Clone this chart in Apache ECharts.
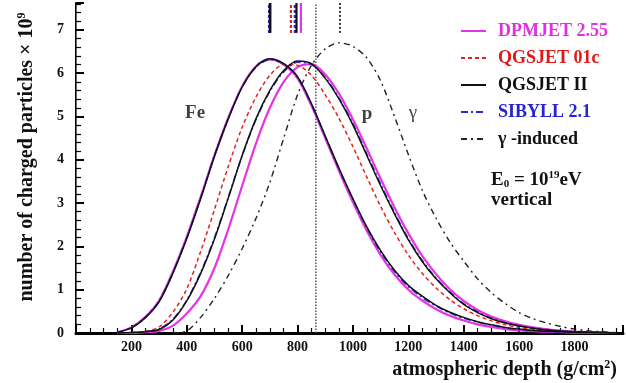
<!DOCTYPE html>
<html><head><meta charset="utf-8">
<script src="https://cdn.jsdelivr.net/npm/echarts@6/dist/echarts.min.js"></script>
<style>html,body{margin:0;padding:0;background:#fff}#c{width:626px;height:383px}</style>
</head><body><div id="c"></div>
<script>
// ---- data (atmospheric depth in g/cm^2, particles x 10^9) ----
const depth = [150,200,250,300,350,400,450,500,550,600,650,700,750,800,850,900,950,1000,1050,1100,1150,1200,1250,1300,1350,1400,1450,1500,1550,1600,1650,1700,1750,1800,1850,1900,1950];

const feDPMJET  = [0.02,0.13,0.37,0.75,1.42,2.22,3.14,4.10,4.97,5.70,6.16,6.32,6.20,5.88,5.25,4.50,3.74,3.02,2.36,1.80,1.35,1.00,0.75,0.55,0.40,0.29,0.20,0.14,0.09,0.06,0.04,0.03,0.02,0.01,0.005,0,0];
const feQGSII   = [0.02,0.12,0.35,0.72,1.38,2.18,3.10,4.08,4.95,5.68,6.15,6.33,6.22,5.92,5.30,4.55,3.80,3.10,2.45,1.90,1.45,1.10,0.85,0.64,0.48,0.36,0.26,0.19,0.13,0.09,0.06,0.04,0.03,0.015,0.01,0.005,0];
const feSIBYLL  = [0.02,0.12,0.36,0.74,1.40,2.20,3.12,4.10,4.96,5.68,6.14,6.31,6.21,5.90,5.28,4.53,3.78,3.08,2.42,1.87,1.42,1.07,0.82,0.62,0.46,0.34,0.25,0.18,0.12,0.08,0.055,0.035,0.025,0.012,0.008,0.004,0];

const pDPMJET   = [0,0,0.02,0.05,0.17,0.45,0.85,1.50,2.40,3.40,4.38,5.20,5.80,6.14,6.21,5.97,5.52,4.93,4.26,3.56,2.90,2.30,1.78,1.36,1.01,0.74,0.53,0.38,0.27,0.19,0.13,0.085,0.055,0.035,0.02,0.01,0];
const pQGS01c   = [0,0.01,0.04,0.14,0.48,1.02,1.88,2.85,3.85,4.75,5.45,5.95,6.20,6.18,5.95,5.50,4.95,4.30,3.60,2.92,2.32,1.80,1.38,1.04,0.77,0.56,0.40,0.28,0.19,0.13,0.09,0.06,0.04,0.025,0.015,0.01,0];
const pQGSII    = [0,0.01,0.03,0.08,0.30,0.74,1.37,2.17,3.12,4.10,4.95,5.60,6.06,6.28,6.22,5.88,5.40,4.80,4.10,3.40,2.75,2.15,1.65,1.25,0.93,0.66,0.47,0.33,0.23,0.16,0.11,0.07,0.045,0.03,0.02,0.01,0];
const pSIBYLL   = [0,0.01,0.03,0.09,0.32,0.76,1.40,2.20,3.14,4.10,4.93,5.58,6.03,6.25,6.20,5.90,5.42,4.83,4.14,3.44,2.78,2.18,1.68,1.27,0.95,0.68,0.49,0.34,0.24,0.17,0.11,0.075,0.05,0.03,0.02,0.01,0];

const gamma     = [null,null,null,null,0,0.05,0.36,0.80,1.33,1.95,2.65,3.48,4.50,5.50,6.18,6.56,6.70,6.62,6.35,5.82,5.00,4.12,3.30,2.65,2.10,1.66,1.25,0.93,0.68,0.47,0.33,0.23,0.15,0.09,0.05,0.03,0.01];

// mean Xmax markers (g/cm^2), model order: DPMJET, QGSJET01c, QGSJETII, SIBYLL
const xmaxFe = [703, null, 700, 697];
const xmaxP  = [812, 776, 796, 790];
const xmaxGamma = 953;
const obsLevel = 866;

const modelNames = ['DPMJET 2.55','QGSJET 01c','QGSJET II','SIBYLL 2.1'];
const gammaName = 'γ -induced';
const xTicks = [200,400,600,800,1000,1200,1400,1600,1800];
const yTicks = [0,1,2,3,4,5,6,7];

// ---- styles ----
const SERIF = 'Liberation Serif, Times New Roman, serif';
const styles = [
  {color:'#e633e6', type:'solid', width:2.2},
  {color:'#e8201c', type:[4,3], width:1.5},
  {color:'#111111', type:'solid', width:1.5},
  {color:'#2b2bd0', type:[7,3,2,3], width:1.5}
];
const textColors = ['#e030e0','#e01818','#111111','#2424d0'];
const X_MAX = 1975, Y_MAX = 7.62, MARK_LOW = 6.93;

const pair = arr => depth.map((d,i)=>[d, arr[i]]).filter(p=>p[1]!==null);
const series = [];
const feSets = [feDPMJET, null, feQGSII, feSIBYLL];
const pSets = [pDPMJET, pQGS01c, pQGSII, pSIBYLL];
[0,1,3,2].forEach(m=>{
  if (feSets[m]) series.push({type:'line', name:modelNames[m], data:pair(feSets[m]), symbol:'none', smooth:0.3,
    lineStyle:{color:styles[m].color, type:styles[m].type, width:styles[m].width}, itemStyle:{color:styles[m].color}, z:3});
  series.push({type:'line', name:modelNames[m], data:pair(pSets[m]), symbol:'none', smooth:0.3,
    lineStyle:{color:styles[m].color, type:styles[m].type, width:styles[m].width}, itemStyle:{color:styles[m].color}, z:3});
});
series.push({type:'line', name:gammaName, data:pair(gamma), symbol:'none', smooth:0.3,
  lineStyle:{color:'#222', type:[6,4,2,4], width:1.4}, itemStyle:{color:'#222'}, z:3});
[0,1,3,2].forEach(m=>{
  [xmaxFe[m], xmaxP[m]].forEach(x=>{
    if (x===null) return;
    series.push({type:'line', name:'mark', data:[[x,MARK_LOW],[x,Y_MAX]], symbol:'none', silent:true,
      lineStyle:{color:styles[m].color, type:styles[m].type==='solid'?'solid':[3,2], width:2.2}, z:4});
  });
});
series.push({type:'line', name:'markG', data:[[xmaxGamma,MARK_LOW],[xmaxGamma,Y_MAX]], symbol:'none', silent:true,
  lineStyle:{color:'#333', type:[2,2], width:2}, z:4});
series.push({type:'line', name:'obs', data:[[obsLevel,0],[obsLevel,Y_MAX]], symbol:'none', silent:true,
  lineStyle:{color:'#555', type:[1.5,1.5], width:1.5}, z:2});
series.push({type:'scatter', name:'lbl', symbolSize:0, silent:true, z:5,
  data:[{value:[430,5.07], label:{formatter:'Fe'}}, {value:[1051,5.05], label:{formatter:'p'}}, {value:[1217,5.08], label:{formatter:'γ', fontWeight:'normal'}}],
  label:{show:true, position:'inside', fontFamily:SERIF, fontWeight:'bold', fontSize:19, color:'#111'}});

const chart = echarts.init(document.getElementById('c'), null, {renderer:'canvas'});
chart.setOption({
  animation:false,
  backgroundColor:'#fff',
  grid:{left:76, right:3, top:3, bottom:50, containLabel:false},
  title:{text:'{a|atmospheric depth (g/cm}{s|2}{a|)}', right:4, top:354,
    textStyle:{rich:{a:{fontFamily:SERIF, fontWeight:'bold', fontSize:20, color:'#111', lineHeight:22},
                     s:{fontFamily:SERIF, fontWeight:'bold', fontSize:12, color:'#111', verticalAlign:'top', lineHeight:12}}}},
  legend:{orient:'vertical', left:455, top:17, itemWidth:25, itemHeight:14, itemGap:9,
    itemStyle:{opacity:0},
    data:modelNames.map((n,i)=>({name:n, textStyle:{color:textColors[i]}})).concat([{name:gammaName, textStyle:{color:'#111'}}]),
    textStyle:{fontFamily:SERIF, fontWeight:'bold', fontSize:18, lineHeight:16, padding:[0,0,0,7]}},
  xAxis:[
    {type:'value', min:0, max:X_MAX, interval:200, position:'bottom',
     axisLine:{lineStyle:{color:'#000', width:2}},
     axisTick:{inside:true, length:8, lineStyle:{color:'#000', width:2}},
     minorTick:{show:true, splitNumber:4, length:5, lineStyle:{color:'#000', width:1.2}},
     splitLine:{show:false},
     axisLabel:{formatter:v=>xTicks.includes(v)?String(v):'', showMaxLabel:false, fontFamily:SERIF, fontWeight:'bold', fontSize:14, color:'#111', margin:7}},
    {type:'value', min:0, max:X_MAX, position:'top', axisLine:{lineStyle:{color:'#000', width:3}},
     axisTick:{show:false}, axisLabel:{show:false}, splitLine:{show:false}}
  ],
  yAxis:[
    {type:'value', min:0, max:Y_MAX, interval:1,
     name:'{a|number of charged particles × 10}{s|9}', nameLocation:'middle', nameRotate:90, nameGap:38,
     nameTextStyle:{padding:[0,0,0,22], rich:{a:{fontFamily:SERIF, fontWeight:'bold', fontSize:20, color:'#111', lineHeight:22},
                          s:{fontFamily:SERIF, fontWeight:'bold', fontSize:12, color:'#111', verticalAlign:'top', lineHeight:12}}},
     axisLine:{lineStyle:{color:'#000', width:2}},
     axisTick:{inside:true, length:8, lineStyle:{color:'#000', width:2}},
     minorTick:{show:true, splitNumber:5, length:5, lineStyle:{color:'#000', width:1.2}},
     splitLine:{show:false},
     axisLabel:{formatter:v=>yTicks.includes(v)?String(v):'', showMaxLabel:false, fontFamily:SERIF, fontWeight:'bold', fontSize:14, color:'#111', margin:12}},
    {type:'value', min:0, max:Y_MAX, position:'right', axisLine:{show:true, lineStyle:{color:'#666', width:1}},
     axisTick:{show:false}, axisLabel:{show:false}, splitLine:{show:false}}
  ],
  graphic:[
    {type:'text', left:491, top:170, style:{text:'{b|E}{sub|0}{b| = 10}{sup|19}{b|eV}\n{b|vertical}',
      rich:{b:{fontFamily:SERIF, fontWeight:'bold', fontSize:19, fill:'#111', lineHeight:20},
            sub:{fontFamily:SERIF, fontWeight:'bold', fontSize:11, fill:'#111', verticalAlign:'bottom', lineHeight:12},
            sup:{fontFamily:SERIF, fontWeight:'bold', fontSize:11, fill:'#111', verticalAlign:'top', lineHeight:12}}}}
  ],
  series:series
});
</script></body></html>
